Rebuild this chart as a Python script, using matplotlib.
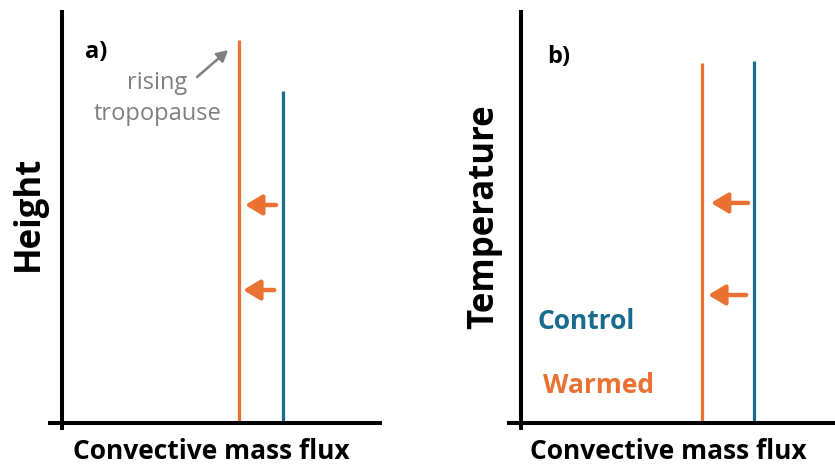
import matplotlib
matplotlib.use("Agg")
import matplotlib.pyplot as plt

ORANGE = "#E97132"
BLUE = "#196A8C"
GRAY = "#7F7F7F"

# schematic values, arbitrary units (x: mass flux, y: height / temperature)
panel_tags = ["a)", "b)"]
y_labels = ["Height", "Temperature"]
x_label = "Convective mass flux"
control_flux = [6.90, 7.42]
warmed_flux = [5.53, 5.76]
control_top = [8.04, 8.77]
warmed_top = [9.27, 8.72]
arrow_levels = [[5.28, 3.22], [5.33, 3.10]]
arrow_start = [[6.69, 6.63], [7.23, 7.17]]
arrow_end = [[5.72, 5.66], [6.05, 5.96]]

plt.rcParams["font.family"] = ["Open Sans", "DejaVu Sans"]

fig = plt.figure(figsize=(8.35, 4.65), dpi=100)
axes = [fig.add_axes([0.0743, 0.0903, 0.3832, 0.888]),
        fig.add_axes([0.6240, 0.0903, 0.3760, 0.888])]

for i, ax in enumerate(axes):
    ax.set_xlim(0, 10)
    ax.set_ylim(0, 10)
    ax.axis("off")

    ax.plot([warmed_flux[i]] * 2, [0, warmed_top[i]], color=ORANGE, lw=2.3,
            solid_capstyle="butt")
    ax.plot([control_flux[i]] * 2, [0, control_top[i]], color=BLUE, lw=2.3,
            solid_capstyle="butt")

    for lev, x0, x1 in zip(arrow_levels[i], arrow_start[i], arrow_end[i]):
        ax.annotate("", xy=(x1, lev), xytext=(x0, lev),
                    arrowprops=dict(arrowstyle="-|>,head_length=0.5,head_width=0.3",
                                    color=ORANGE, lw=3.2, mutation_scale=20,
                                    shrinkA=0, shrinkB=0))

    # hand-drawn style axes that overshoot the corner
    x_over = -14 / (ax.bbox.width)
    ax.plot([0, 0], [-0.017, 1.0], transform=ax.transAxes, color="black",
            lw=2.9, clip_on=False, solid_capstyle="butt", zorder=5)
    ax.plot([x_over, 1.0], [0, 0], transform=ax.transAxes, color="black",
            lw=2.9, clip_on=False, solid_capstyle="butt", zorder=5)

    ax.text(0.468, -0.070, x_label, transform=ax.transAxes, ha="center",
            va="center", fontsize=19, fontweight="bold")

axes[0].text(-0.103, 0.508, y_labels[0], transform=axes[0].transAxes,
             rotation=90, ha="center", va="center", fontsize=25, fontweight="bold")
axes[1].text(-0.118, 0.50, y_labels[1], transform=axes[1].transAxes,
             rotation=90, ha="center", va="center", fontsize=25, fontweight="bold")

axes[0].text(0.072, 0.898, panel_tags[0], transform=axes[0].transAxes,
             ha="left", va="center", fontsize=17, fontweight="bold")
axes[1].text(0.083, 0.886, panel_tags[1], transform=axes[1].transAxes,
             ha="left", va="center", fontsize=17, fontweight="bold")

axes[0].text(0.297, 0.786, "rising\ntropopause", transform=axes[0].transAxes,
             ha="center", va="center", fontsize=17, color=GRAY, linespacing=1.4)
axes[0].annotate("", xy=(5.19, 9.03), xytext=(4.22, 8.38),
                 arrowprops=dict(arrowstyle="-|>,head_length=0.55,head_width=0.3",
                                 color=GRAY, lw=1.8, mutation_scale=12,
                                 shrinkA=0, shrinkB=0))

axes[1].text(0.051, 0.245, "Control", transform=axes[1].transAxes, ha="left",
             va="center", fontsize=19, fontweight="bold", color=BLUE)
axes[1].text(0.070, 0.092, "Warmed", transform=axes[1].transAxes, ha="left",
             va="center", fontsize=19, fontweight="bold", color=ORANGE)

fig.savefig("out.png", dpi=100)
